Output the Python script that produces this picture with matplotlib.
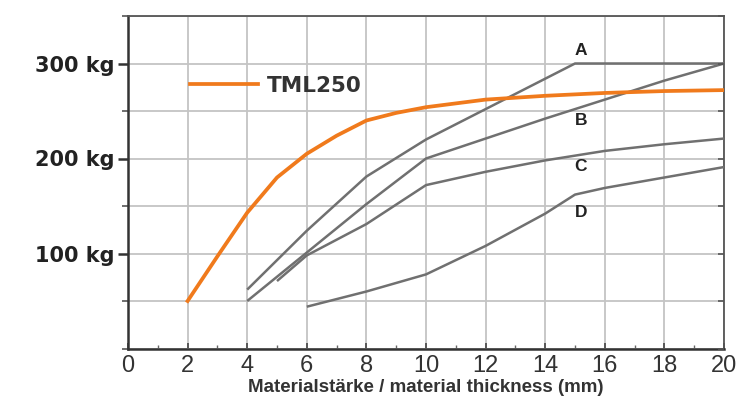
import matplotlib
matplotlib.use("Agg")
import matplotlib.pyplot as plt
from matplotlib.ticker import MultipleLocator

# Data
tml_x = [2, 3, 4, 5, 6, 7, 8, 9, 10, 12, 14, 16, 18, 20]
tml_y = [50, 97, 143, 180, 205, 224, 240, 248, 254, 262, 266, 269, 271, 272]

a_x = [4, 6, 8, 10, 15, 20]
a_y = [62, 124, 181, 220, 300, 300]

b_x = [4, 6, 8, 10, 12, 14, 16, 18, 20]
b_y = [50, 101, 152, 200, 221, 242, 262, 282, 300]

c_x = [5, 6, 8, 10, 12, 14, 15, 16, 18, 20]
c_y = [71, 98, 131, 172, 186, 198, 203, 208, 215, 221]

d_x = [6, 8, 10, 12, 14, 15, 16, 18, 20]
d_y = [44, 60, 78, 108, 142, 162, 169, 180, 191]

curve_labels = ["A", "B", "C", "D"]
label_x = [15.2, 15.2, 15.2, 15.2]
label_y = [314, 240, 192, 143]

x_ticks = list(range(0, 21, 2))
y_ticks = [100, 200, 300]
y_tick_labels = ["100 kg", "200 kg", "300 kg"]
xlabel = "Materialstärke / material thickness (mm)"
legend_label = "TML250"

plt.rcParams['font.family'] = ['Liberation Sans', 'DejaVu Sans']

fig = plt.figure(figsize=(7.39, 4.05), dpi=100)
ax = fig.add_axes([128/739, 1 - 348.5/405, (724-128)/739, (348.5-16)/405])

ax.set_xlim(0, 20)
ax.set_ylim(0, 350)

gray = "#707070"
orange = "#f07a1c"

for xs, ys in [(a_x, a_y), (b_x, b_y), (c_x, c_y), (d_x, d_y)]:
    ax.plot(xs, ys, color=gray, lw=1.8, solid_capstyle='butt', zorder=3)
ax.plot(tml_x, tml_y, color=orange, lw=2.7, zorder=4, label=legend_label)

for t, lx, ly in zip(curve_labels, label_x, label_y):
    ax.text(lx, ly, t, fontsize=12.5, fontweight='bold', ha='center', va='center',
            color="#222222", zorder=5)

# ticks & grid
ax.set_xticks(x_ticks)
ax.xaxis.set_minor_locator(MultipleLocator(1))
ax.set_yticks(y_ticks)
ax.yaxis.set_minor_locator(MultipleLocator(50))
ax.grid(True, which='both', axis='y', color="#c4c4c4", lw=1.3, zorder=0)
ax.grid(True, which='major', axis='x', color="#c4c4c4", lw=1.3, zorder=0)
ax.set_axisbelow(True)

ax.set_yticklabels(y_tick_labels, fontsize=15, fontweight='bold', color="#222222",
                   family='DejaVu Sans')
ax.set_xticklabels([str(v) for v in x_ticks], fontsize=17, color="#333333")
ax.tick_params(axis='y', which='major', length=7, width=1.8, color="#333333", pad=3)
ax.tick_params(axis='y', which='minor', length=4, width=1.2, color="#555555")
ax.tick_params(axis='x', which='major', length=4, width=1.2, direction='in',
               color="#444444", pad=5)
ax.tick_params(axis='x', which='minor', length=3, width=1.0, direction='in', color="#666666")

for s in ['left', 'bottom']:
    ax.spines[s].set_color("#333333")
    ax.spines[s].set_linewidth(1.8)
for s in ['top', 'right']:
    ax.spines[s].set_color("#555555")
    ax.spines[s].set_linewidth(1.3)

# inward ticks on the right spine
ax2 = ax.twinx()
ax2.set_ylim(0, 350)
ax2.yaxis.set_major_locator(MultipleLocator(50))
ax2.tick_params(axis='y', which='major', direction='in', length=4, width=1.2,
                color="#555555", labelright=False)
for s in ax2.spines.values():
    s.set_visible(False)

ax.set_xlabel(xlabel, fontsize=13.5, fontweight='bold', color="#333333", labelpad=1)

leg = ax.legend(loc='center left', bbox_to_anchor=(62/596, (348.5-86)/332.5),
                frameon=False, borderaxespad=0, borderpad=0,
                handlelength=3.15, handletextpad=0.42,
                prop={'size': 15.5, 'weight': 'bold', 'family': 'DejaVu Sans'})
for t in leg.get_texts():
    t.set_color("#333333")

fig.savefig("out.png", dpi=100)
